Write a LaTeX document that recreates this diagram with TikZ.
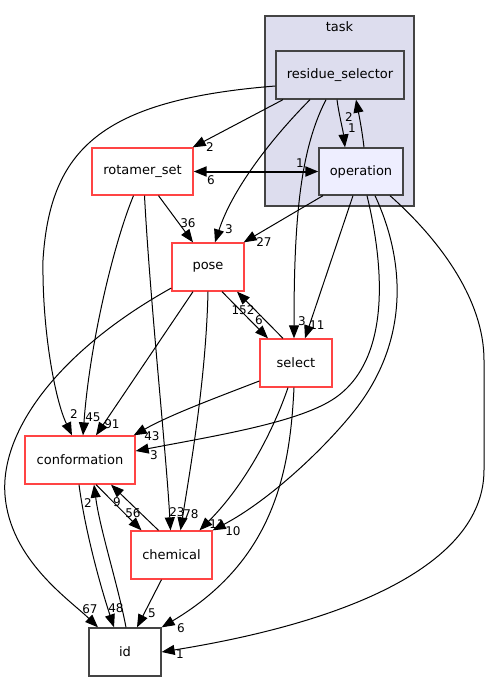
\documentclass[tikz,border=0pt]{standalone}
\usepackage{fontspec}
\setmainfont{DejaVu Sans}
\usetikzlibrary{arrows.meta}

\definecolor{clfill}{HTML}{DDDDEE}
\definecolor{opfill}{HTML}{EEEEFF}
\definecolor{dirred}{HTML}{FF4444}
\definecolor{dirgray}{HTML}{444444}

\begin{document}
\begin{tikzpicture}[x=1pt, y=-1pt,
  dirbox/.style={draw=dirred, fill=white, line width=1.3pt, minimum height=48pt, inner sep=0pt, font=\fontsize{13}{15}\selectfont},
  subbox/.style={dirbox, draw=dirgray},
  dep/.style={-{Triangle[length=13pt,width=10pt]}, line width=1pt},
  lbl/.style={font=\fontsize{12}{14}\selectfont, inner sep=0pt}]

\useasboundingbox (0,0) rectangle (490,681);

% task cluster
\node[draw=dirgray, fill=clfill, line width=1.3pt, minimum width=149pt, minimum height=190pt] (task) at (339.5,111) {};
\node[font=\fontsize{13}{15}\selectfont] (tasklbl) at (339.5,27) {task};

\node[subbox, fill=clfill, minimum width=128pt] (rsel) at (340,75) {residue\_selector};
\node[subbox, fill=opfill, minimum width=84pt, minimum height=47pt] (op) at (361,171.5) {operation};
\node[dirbox, minimum width=101pt, minimum height=47pt] (rot) at (142.5,171.5) {rotamer\_set};
\node[dirbox, minimum width=72pt] (pose) at (208,267) {pose};
\node[dirbox, minimum width=72pt] (sel) at (296,363) {select};
\node[dirbox, minimum width=110pt] (conf) at (80,460) {conformation};
\node[dirbox, minimum width=81pt] (chem) at (171.5,555) {chemical};
\node[subbox, minimum width=72pt] (id) at (125,652) {id};

% residue_selector
\draw[dep] ([yshift=-11pt]rsel.west) .. controls (100,100) and (50,150) .. (43,260) .. controls (42,330) and (55,400) .. ([xshift=-8pt]conf.north) node[lbl] at (74,414) {2};
\draw[dep] ([xshift=-57pt]rsel.south) -- ([xshift=-1pt]rot.north east) node[lbl] at (210,147) {2};
\draw[dep] ([xshift=-30pt]rsel.south) .. controls (270,140) and (232,190) .. ([xshift=7pt]pose.north) node[lbl] at (229,229) {3};
\draw[dep] ([xshift=-14pt]rsel.south) .. controls (300,150) and (294,220) .. ([xshift=-2pt]sel.north) node[lbl] at (302,321) {3};
\draw[dep] ([xshift=-3pt]rsel.south) .. controls (339,115) and (343,130) .. ([xshift=-16pt]op.north) node[lbl] at (352,128) {1};

% operation
\draw[dep] ([xshift=3pt]op.north) .. controls (362,130) and (359,115) .. ([xshift=16pt]rsel.south) node[lbl] at (349,117) {2};
\draw[{Triangle[length=13pt,width=10pt]}-{Triangle[length=13pt,width=10pt]}, line width=2pt] (rot.east) -- (op.west) node[lbl] at (300,163) {1} node[lbl] at (211,180) {6};
\draw[dep] ([xshift=-38pt]op.south) -- ([xshift=-1pt]pose.north east) node[lbl] at (264,242) {27};
\draw[dep] ([xshift=-8pt]op.south) -- ([xshift=9pt]sel.north) node[lbl] at (317,325) {11};
\draw[dep] ([xshift=6pt]op.south) .. controls (385,270) and (390,360) .. (335,398) .. controls (300,422) and (220,435) .. ([yshift=9pt]conf.east) node[lbl] at (154,455) {3};
\draw[dep] ([xshift=14pt]op.south) .. controls (405,260) and (410,340) .. (355,410) .. controls (325,448) and (270,500) .. (chem.north east) node[lbl] at (233,531) {10};
\draw[dep] ([xshift=29pt]op.south) .. controls (440,240) and (484,300) .. (484,360) -- (484,470) .. controls (484,560) and (360,620) .. (id.east) node[lbl] at (180,654) {1};

% rotamer_set
\draw[dep] ([xshift=16pt]rot.south) -- ([xshift=-15pt]pose.north) node[lbl] at (188,223) {36};
\draw[dep] ([xshift=-9pt]rot.south) .. controls (115,240) and (90,340) .. ([xshift=3pt]conf.north) node[lbl] at (93,417) {45};
\draw[dep] ([xshift=2pt]rot.south) .. controls (150,300) and (166,450) .. ([xshift=-1pt]chem.north) node[lbl] at (177,512) {23};

% pose
\draw[dep] ([xshift=-15pt]pose.south) -- ([xshift=16pt]conf.north) node[lbl] at (112,424) {91};
\draw[dep] (pose.south) .. controls (206,380) and (190,470) .. ([xshift=9pt]chem.north) node[lbl] at (191,514) {78};
\draw[dep] ([yshift=-21pt]pose.west) .. controls (60,350) and (0,430) .. (5,495) .. controls (10,560) and (70,600) .. ([xshift=-27pt]id.north) node[lbl] at (90,609) {67};
\draw[dep] ([xshift=14pt]pose.south) -- ([xshift=-28pt]sel.north) node[lbl] at (259,320) {6};

% select
\draw[dep] ([xshift=-13pt]sel.north) -- ([xshift=29pt]pose.south) node[lbl] at (243,310) {152};
\draw[dep] ([yshift=-18pt]sel.west) .. controls (210,400) and (170,415) .. ([xshift=-2pt]conf.north east) node[lbl] at (152,436) {43};
\draw[dep] ([xshift=-8pt]sel.south) .. controls (270,440) and (240,490) .. ([xshift=28pt]chem.north) node[lbl] at (217,524) {11};
\draw[dep] ([xshift=-2pt]sel.south) .. controls (290,470) and (275,560) .. (id.north east) node[lbl] at (181,628) {6};

% conformation, chemical, id
\draw[dep] ([xshift=16pt]conf.south) -- ([xshift=-30pt]chem.north) node[lbl] at (133,513) {56};
\draw[dep] ([xshift=-13pt]chem.north) -- ([xshift=31pt]conf.south) node[lbl] at (117,502) {9};
\draw[dep] ([xshift=-1pt]conf.south) .. controls (85,530) and (100,585) .. ([xshift=-11pt]id.north) node[lbl] at (116,608) {48};
\draw[dep] ([xshift=1pt]id.north) .. controls (118,585) and (100,530) .. ([xshift=14pt]conf.south) node[lbl] at (88,503) {2};
\draw[dep] ([xshift=-10pt]chem.south) -- ([xshift=12pt]id.north) node[lbl] at (152,613) {5};

\end{tikzpicture}
\end{document}
